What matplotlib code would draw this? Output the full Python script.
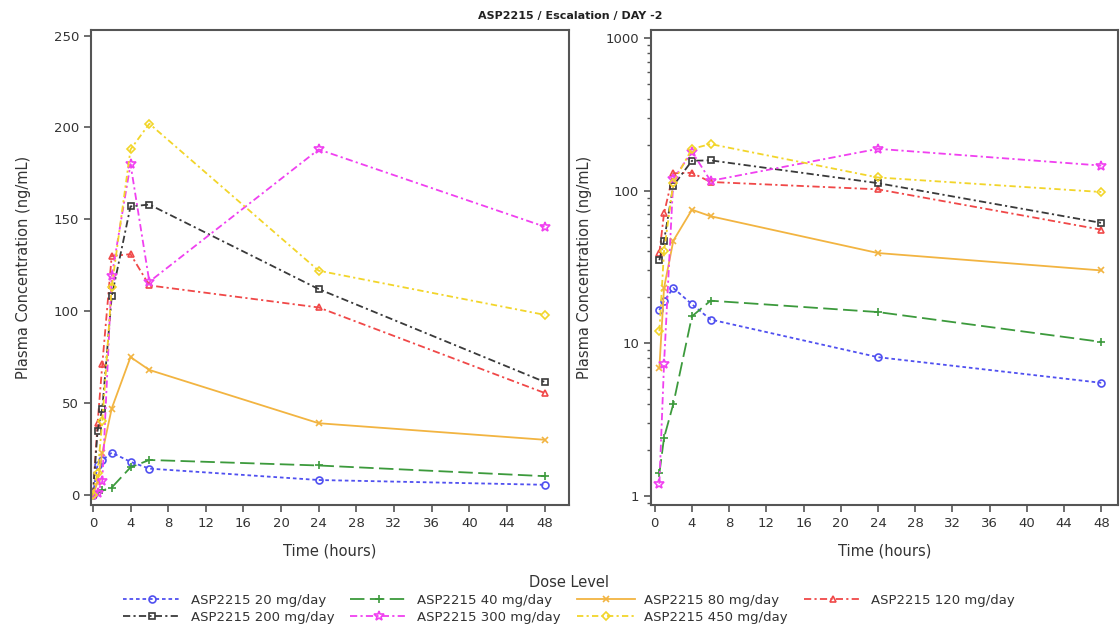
import numpy as np
import matplotlib
matplotlib.use("Agg")
import matplotlib.pyplot as plt
from matplotlib.ticker import FixedLocator, LogLocator, NullFormatter

# Sampling times (hours after dose)
time_h = [0, 0.5, 1, 2, 4, 6, 24, 48]

# Mean plasma concentration (ng/mL) per dose level
conc_20 = [0, 16.5, 18.9, 23.0, 18.0, 14.3, 8.1, 5.5]
conc_40 = [0, 1.4, 2.4, 4.0, 15.0, 19.0, 16.0, 10.2]
conc_80 = [0, 6.9, 23.0, 47.0, 75.0, 68.0, 39.0, 30.0]
conc_120 = [0, 39.0, 71.0, 130.0, 131.0, 114.0, 102.0, 55.5]
conc_200 = [0, 35.0, 47.0, 108.0, 157.0, 158.0, 112.0, 61.5]
conc_300 = [0, 1.2, 7.3, 119.0, 180.0, 116.0, 188.0, 146.0]
conc_450 = [0, 12.0, 40.0, 113.0, 188.0, 202.0, 122.0, 98.0]

dose_labels = ["ASP2215 20 mg/day", "ASP2215 40 mg/day", "ASP2215 80 mg/day",
               "ASP2215 120 mg/day", "ASP2215 200 mg/day", "ASP2215 300 mg/day",
               "ASP2215 450 mg/day"]
dose_values = [conc_20, conc_40, conc_80, conc_120, conc_200, conc_300, conc_450]

x_ticks = list(range(0, 49, 4))
lin_ticks = [0, 50, 100, 150, 200, 250]
log_ticks = [1, 10, 100, 1000]

styles = [
    dict(color="#5050f0", marker="o", ms=5.0, dashes=(2, 1.6)),
    dict(color="#3c9a3c", marker="+", ms=6.0, dashes=(8, 3)),
    dict(color="#f2b441", marker="x", ms=5.0, dashes=None),
    dict(color="#f04848", marker="^", ms=5.0, dashes=(4, 1.8, 1.2, 1.8)),
    dict(color="#3a3a3a", marker="s", ms=4.6, dashes=(4, 1.8, 1.2, 1.8)),
    dict(color="#f040f0", marker="*", ms=7.5, dashes=(4, 1.8, 1.2, 1.8)),
    dict(color="#f2d52a", marker="D", ms=4.2, dashes=(3.5, 1.8, 1.2, 1.8)),
]

fig = plt.figure(figsize=(11.2, 6.27), dpi=100)
ax_lin = fig.add_axes([91 / 1120, 1 - 505 / 627, 478 / 1120, 475 / 627])
ax_log = fig.add_axes([651 / 1120, 1 - 505 / 627, 467 / 1120, 475 / 627])

text_col = "#333333"
spine_col = "#555555"


def draw_series(ax, log=False):
    handles = []
    for vals, st in zip(dose_values, styles):
        y = np.array(vals, dtype=float)
        if log:
            y = np.where(y > 0, y, np.nan)
        kw = dict(color=st["color"], lw=1.3, marker=st["marker"], ms=st["ms"],
                  mfc="none", mec=st["color"], mew=1.2)
        line, = ax.plot(time_h, y, **kw)
        if st["dashes"] is not None:
            line.set_dashes(st["dashes"])
        handles.append(line)
    return handles


def style_axis(ax):
    for s in ax.spines.values():
        s.set_color(spine_col)
        s.set_linewidth(1.5)
    ax.tick_params(axis="both", which="major", direction="out", length=5,
                   width=1.2, color=spine_col, labelsize=9.5, labelcolor=text_col)
    ax.tick_params(axis="both", which="minor", direction="out", length=3,
                   width=1.0, color=spine_col)
    ax.xaxis.set_major_locator(FixedLocator(x_ticks))
    ax.set_xlabel("Time (hours)", fontsize=10.5, color=text_col)
    ax.xaxis.set_label_coords(0.5, -0.08)
    ax.set_ylabel("Plasma Concentration (ng/mL)", fontsize=10.5, color=text_col)
    ax.yaxis.set_label_coords(-0.126, 0.5)


handles = draw_series(ax_lin)
draw_series(ax_log, log=True)

style_axis(ax_lin)
ax_lin.set_xlim(-0.2, 50.6)
ax_lin.set_ylim(-5.5, 253)
ax_lin.yaxis.set_major_locator(FixedLocator(lin_ticks))

style_axis(ax_log)
ax_log.set_yscale("log")
ax_log.set_xlim(-0.4, 49.8)
ax_log.set_ylim(0.87, 1130)
ax_log.yaxis.set_major_locator(FixedLocator(log_ticks))
ax_log.set_yticklabels([str(v) for v in log_ticks])
ax_log.yaxis.set_minor_locator(LogLocator(base=10, subs=np.arange(2, 10)))
ax_log.yaxis.set_minor_formatter(NullFormatter())

fig.text(570 / 1120, 1 - 16 / 627, "ASP2215 / Escalation / DAY -2",
         ha="center", va="center", fontsize=8, fontweight="bold", color="#222222")

# Row-wise ordering for a 4-column legend
order = [0, 4, 1, 5, 2, 6, 3]
leg = fig.legend([handles[i] for i in order], [dose_labels[i] for i in order],
                 loc="upper center", bbox_to_anchor=(569 / 1120, 1 - 568 / 627),
                 ncol=4, frameon=False, title="Dose Level", fontsize=9.5,
                 title_fontsize=10.5, handlelength=4.4, handletextpad=0.7,
                 columnspacing=1.2, labelspacing=0.3, borderpad=0.0)
for t in leg.get_texts():
    t.set_color(text_col)
leg.get_title().set_color(text_col)

fig.savefig("out.png", dpi=100)
